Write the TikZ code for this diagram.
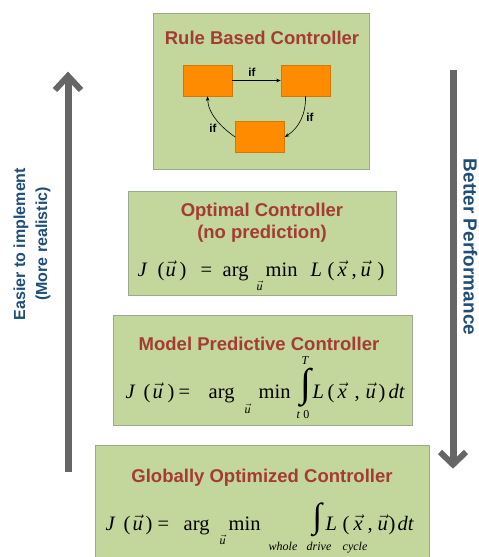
\documentclass[tikz,border=0pt]{standalone}
\usepackage{fontspec}
\usepackage{graphicx}
\setmainfont{Liberation Serif}
\setsansfont{Liberation Sans}
\usetikzlibrary{arrows.meta}
\definecolor{boxfill}{HTML}{C3D69B}
\definecolor{boxline}{HTML}{9DA98C}
\definecolor{titlered}{HTML}{A33C34}
\definecolor{sideblue}{HTML}{1F4E79}
\definecolor{arrgray}{HTML}{666666}
\definecolor{orangefill}{HTML}{FF8C00}
\definecolor{orangeline}{HTML}{D27800}
\newcommand{\putat}[3][0]{\rlap{\hspace*{#2pt}\raisebox{#1pt}{#3}}}
\newcommand{\vu}{$\vec{\hbox{\itshape u}}$}
\newcommand{\vx}{$\vec{\hbox{\itshape x}}$}
\newcommand{\subu}{\makebox[0pt]{\fontsize{12}{12}\selectfont\vu}}
\newcommand{\intsign}[2]{\raisebox{-#2pt}{\resizebox*{!}{#1pt}{\raisebox{\depth}{∫}}}}
\newcommand{\smallit}[1]{{\fontsize{12}{12}\selectfont\itshape #1}}
\tikzset{
  panel/.style={draw=boxline, line width=0.8pt, fill=boxfill},
  title/.style={font=\sffamily\bfseries\fontsize{18.5}{22}\selectfont, text=titlered, align=center, inner sep=0pt},
  formula/.style={anchor=base west, inner sep=0pt, font=\fontsize{20.5}{24}\selectfont},
  statebox/.style={draw=orangeline, line width=0.6pt, fill=orangefill, minimum width=49pt, minimum height=31pt, inner sep=0pt},
  iflabel/.style={font=\sffamily\bfseries\fontsize{11.5}{12}\selectfont, inner sep=0pt},
  trans/.style={line width=0.6pt, -{Stealth[length=4.5pt,width=3.5pt]}},
  bigarrow/.style={draw=arrgray, line width=7pt},
  chevron/.style={draw=arrgray, line width=6pt, miter limit=10},
  sidetext/.style={font=\sffamily\bfseries\fontsize{16}{22}\selectfont, text=sideblue, align=center, inner sep=0pt}
}
\begin{document}
\begin{tikzpicture}[x=1pt,y=-1pt]
\useasboundingbox (0,0) rectangle (479,557);
\fill[white] (0,0) rectangle (479,557);
% panels
\draw[panel] (153,13) rectangle (369,169);
\draw[panel] (128,191) rectangle (396,295);
\draw[panel] (113,315) rectangle (412,425);
\draw[panel] (95,445) rectangle (429,570);
% rule based controller
\node[title] (t1) at (262,38) {Rule Based Controller};
\node[statebox] (s1) at (207.5,80.5) {};
\node[statebox] (s2) at (305.5,80.5) {};
\node[statebox] (s3) at (260,137) {};
\draw[trans] (s1.east) -- (s2.west);
\draw[trans] (s2.south) .. controls (306,114) and (299,128) .. (s3.east);
\draw[trans] (s3.west) .. controls (222,128) and (208,114) .. (s1.south);
\node[iflabel] (l1) at (252,72) {if};
\node[iflabel] (l2) at (310,117) {if};
\node[iflabel] (l3) at (213,128) {if};
% optimal controller
\node[title] (t2) at (262,223) {Optimal Controller\\(no prediction)};
\node[formula] (f2) at (137,276) {\putat{0}{\textit{J}}\putat{20}{(}\putat{28}{\vu}\putat{42}{)}\putat{63}{=}\putat{85}{arg}\putat{128}{min}\putat[-14]{122}{\subu}\putat{173}{\textit{L}}\putat{190}{(}\putat{200}{\vx}\putat{214}{,}\putat{223}{\vu}\putat{240}{)}};
% model predictive controller
\node[title] (t3) at (259,344) {Model Predictive Controller};
\node[formula] (f3) at (125,398) {\putat{0}{\textit{J}}\putat{18}{(}\putat{27}{\vu}\putat{42}{)}\putat{53}{=}\putat{83}{arg}\putat{133}{min}\putat[-15]{122}{\subu}\putat{175}{\intsign{39}{9}}\putat[34]{176}{\smallit{T}}\putat[-20]{171}{\smallit{t}\,{\fontsize{12}{12}\selectfont 0}}\putat{187}{\textit{L}}\putat{202}{(}\putat{212}{\vx}\putat{229}{,}\putat{240}{\vu}\putat{253}{)}\putat{263}{\textit{dt}}};
% globally optimized controller
\node[title] (t4) at (262,478) {Globally Optimized Controller};
\node[formula] (f4) at (105,530) {\putat{0}{\textit{J}}\putat{18}{(}\putat{27}{\vu}\putat{40}{)}\putat{52}{=}\putat{78}{arg}\putat{123}{min}\putat[-14]{117}{\subu}\putat{207}{\intsign{34}{7}}\putat[-20]{163}{\smallit{whole}}\putat[-20]{201}{\smallit{drive}}\putat[-20]{237}{\smallit{cycle}}\putat{220}{\textit{L}}\putat{237}{(}\putat{248}{\vx}\putat{262}{,}\putat{272}{\vu}\putat{283}{)}\putat{292}{\textit{dt}}};
% side arrows
\coordinate (la0) at (68,472);
\coordinate (la1) at (68,78);
\coordinate (la2) at (55,90);
\coordinate (la3) at (68,76);
\coordinate (la4) at (81,90);
\draw[bigarrow] (la0) -- (la1);
\draw[chevron] (la2) -- (la3) -- (la4);
\coordinate (ra0) at (453,70);
\coordinate (ra1) at (453,462);
\coordinate (ra2) at (440,452);
\coordinate (ra3) at (453,464.5);
\coordinate (ra4) at (466,452);
\draw[bigarrow] (ra0) -- (ra1);
\draw[chevron] (ra2) -- (ra3) -- (ra4);
\node[sidetext, rotate=90] (lt) at (32,244) {Easier to implement\\(More realistic)};
\node[sidetext, font=\sffamily\bfseries\fontsize{19}{22}\selectfont, rotate=-90, anchor=base] (rt) at (463.5,247) {Better Performance};
\end{tikzpicture}
\end{document}
